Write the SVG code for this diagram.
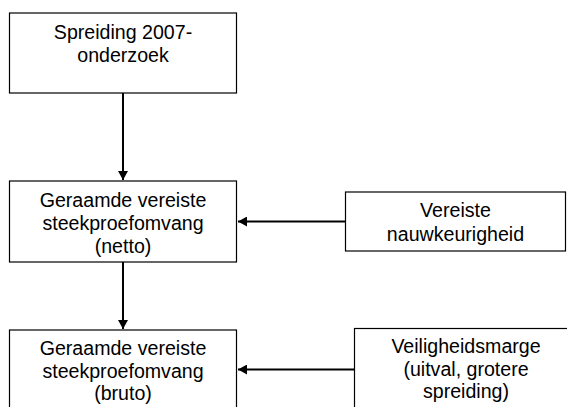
<svg xmlns="http://www.w3.org/2000/svg" width="567" height="407" viewBox="0 0 567 407">
<style>
.box{fill:#fff;stroke:#000;stroke-width:1.2}
.t{font-family:"Liberation Sans",Arial,sans-serif;font-size:19.6px;fill:#000;text-anchor:middle}
.c{fill:none;stroke:#000;stroke-width:2}
</style>
<defs>
<marker id="ah" markerWidth="10" markerHeight="10" refX="9" refY="5" orient="auto" markerUnits="userSpaceOnUse">
<path d="M0,0 L9,5 L0,10 Z" fill="#000"/>
</marker>
</defs>
<rect width="567" height="407" fill="#fff"/>
<g id="connectors">
<line class="c" x1="123" y1="93" x2="123" y2="180" marker-end="url(#ah)"/>
<line class="c" x1="123" y1="262" x2="123" y2="329" marker-end="url(#ah)"/>
<line class="c" x1="345" y1="221.5" x2="238" y2="221.5" marker-end="url(#ah)"/>
<line class="c" x1="354" y1="369.5" x2="238" y2="369.5" marker-end="url(#ah)"/>
</g>
<g id="n1">
<rect class="box" x="9.5" y="13" width="227" height="80"/>
<text class="t" x="123" y="38.5">Spreiding 2007-</text>
<text class="t" x="123" y="61.5">onderzoek</text>
</g>
<g id="n2">
<rect class="box" x="9.5" y="181" width="227" height="81"/>
<text class="t" x="123" y="207">Geraamde vereiste</text>
<text class="t" x="123" y="230">steekproefomvang</text>
<text class="t" x="123" y="253">(netto)</text>
</g>
<g id="n3">
<rect class="box" x="345.5" y="192" width="220" height="59"/>
<text class="t" x="455.5" y="217">Vereiste</text>
<text class="t" x="455.5" y="241">nauwkeurigheid</text>
</g>
<g id="n4">
<rect class="box" x="9.5" y="330" width="227" height="90"/>
<text class="t" x="123" y="355">Geraamde vereiste</text>
<text class="t" x="123" y="378">steekproefomvang</text>
<text class="t" x="123" y="400">(bruto)</text>
</g>
<g id="n5">
<rect class="box" x="354.5" y="328.5" width="224" height="92"/>
<text class="t" x="466" y="353">Veiligheidsmarge</text>
<text class="t" x="466" y="375.5">(uitval, grotere</text>
<text class="t" x="466" y="398">spreiding)</text>
</g>
</svg>
